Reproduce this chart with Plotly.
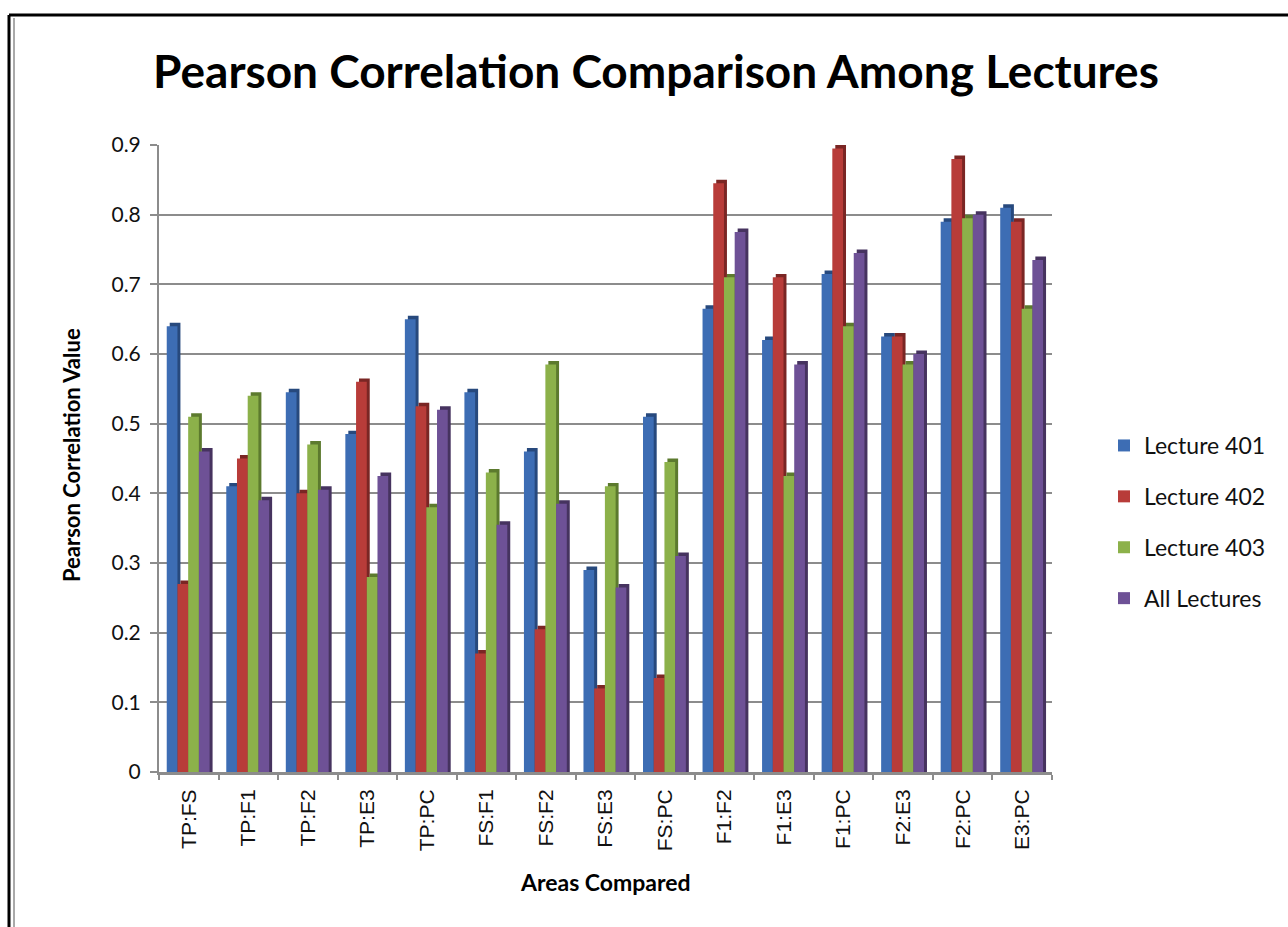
import plotly.graph_objects as go

# Compared area pairs and Pearson correlation per lecture
areas = ["TP:FS", "TP:F1", "TP:F2", "TP:E3", "TP:PC", "FS:F1", "FS:F2", "FS:E3",
         "FS:PC", "F1:F2", "F1:E3", "F1:PC", "F2:E3", "F2:PC", "E3:PC"]
lecture_401 = [0.64, 0.41, 0.545, 0.485, 0.65, 0.545, 0.46, 0.29, 0.51, 0.665, 0.62, 0.715, 0.625, 0.79, 0.81]
lecture_402 = [0.27, 0.45, 0.40, 0.56, 0.525, 0.17, 0.205, 0.12, 0.135, 0.845, 0.71, 0.895, 0.625, 0.88, 0.79]
lecture_403 = [0.51, 0.54, 0.47, 0.28, 0.38, 0.43, 0.585, 0.41, 0.445, 0.71, 0.425, 0.64, 0.585, 0.795, 0.665]
all_lectures = [0.46, 0.39, 0.405, 0.425, 0.52, 0.355, 0.385, 0.265, 0.31, 0.775, 0.585, 0.745, 0.60, 0.80, 0.735]
y_ticks = [0, 0.1, 0.2, 0.3, 0.4, 0.5, 0.6, 0.7, 0.8, 0.9]

series = [
    ("Lecture 401", lecture_401, "#3D6DB4", "#27497D"),
    ("Lecture 402", lecture_402, "#B83C39", "#7A2624"),
    ("Lecture 403", lecture_403, "#8CB14A", "#5C7A2E"),
    ("All Lectures", all_lectures, "#6E5196", "#46335F"),
]

W, H = 1288, 927
L, R, T, B = 159, 236, 145, 155
pw, ph = W - L - R, H - T - B

def px(x):
    return (x - L) / pw

def py(y):
    return (H - B - y) / ph

bar_w = 0.18
start = -0.37
fig = go.Figure()

# darker side faces drawn first, slightly shifted, to give the columns depth
for i, (name, vals, col, dark) in enumerate(series):
    fig.add_trace(go.Bar(
        x=areas, y=[v + 0.005 for v in vals], width=bar_w, offset=start + i * bar_w + 0.05,
        marker=dict(color=dark, line=dict(width=0)), showlegend=False,
        legendgroup=name, hoverinfo="skip"))

for i, (name, vals, col, dark) in enumerate(series):
    fig.add_trace(go.Bar(
        x=areas, y=vals, width=bar_w, offset=start + i * bar_w, name=name,
        marker=dict(color=col, line=dict(width=0)), legendgroup=name))

fig.update_layout(
    width=W, height=H,
    margin=dict(l=L, r=R, t=T, b=B, autoexpand=False),
    paper_bgcolor="white", plot_bgcolor="white",
    barmode="overlay",
    font=dict(family="Lato, 'Liberation Sans', sans-serif", color="#111111"),
    title=dict(text="<b>Pearson Correlation Comparison Among Lectures</b>",
               x=px(656), xref="paper", xanchor="center",
               y=1 - 72 / H, yref="container", yanchor="middle",
               font=dict(size=46, family="Lato, sans-serif", color="black")),
    legend=dict(x=px(1104), y=py(424), xanchor="left", yanchor="top",
                font=dict(size=23, family="Lato, 'Liberation Sans', sans-serif", color="#111111"),
                tracegroupgap=18, itemwidth=30, bgcolor="rgba(0,0,0,0)"),
    showlegend=True,
)

fig.update_yaxes(
    range=[0, 0.9], tickvals=y_ticks, ticktext=[f"{v:g}" for v in y_ticks],
    showgrid=True, gridcolor="#8C8C8C", gridwidth=2,
    showline=True, linecolor="#8C8C8C", linewidth=2,
    ticks="outside", ticklen=7, tickcolor="#8C8C8C", tickwidth=2,
    tickfont=dict(size=21, family="Lato, 'Liberation Sans', sans-serif", color="#111111"),
    zeroline=False, ticklabelstandoff=5,
)
fig.update_xaxes(
    type="category", range=[-0.5, len(areas) - 0.5],
    tickangle=-90, showline=True, linecolor="#8C8C8C", linewidth=3,
    ticks="outside", tickson="boundaries", ticklen=5, tickcolor="#8C8C8C", tickwidth=2,
    tickfont=dict(size=21, family="'Liberation Sans', Arial, sans-serif", color="#111111"),
    ticklabelstandoff=6,
)

# axis titles
fig.add_annotation(text="<b>Pearson Correlation Value</b>", xref="paper", yref="paper",
                   x=px(72), y=py(455), xanchor="center", yanchor="middle",
                   textangle=-90, showarrow=False,
                   font=dict(size=22, family="Lato, sans-serif", color="black"))
fig.add_annotation(text="<b>Areas Compared</b>", xref="paper", yref="paper",
                   x=px(605), y=py(882), xanchor="center", yanchor="middle",
                   showarrow=False,
                   font=dict(size=23, family="Lato, sans-serif", color="black"))

# outer frame
fig.add_shape(type="line", xref="paper", yref="paper", x0=px(9), x1=px(W + 5),
              y0=py(15), y1=py(15), line=dict(color="black", width=3))
fig.add_shape(type="line", xref="paper", yref="paper", x0=px(9), x1=px(9),
              y0=py(15), y1=py(H + 5), line=dict(color="black", width=3))
fig.add_shape(type="line", xref="paper", yref="paper", x0=px(14), x1=px(14),
              y0=py(18), y1=py(H + 5), line=dict(color="#555555", width=1))

fig.write_html("out.html")
